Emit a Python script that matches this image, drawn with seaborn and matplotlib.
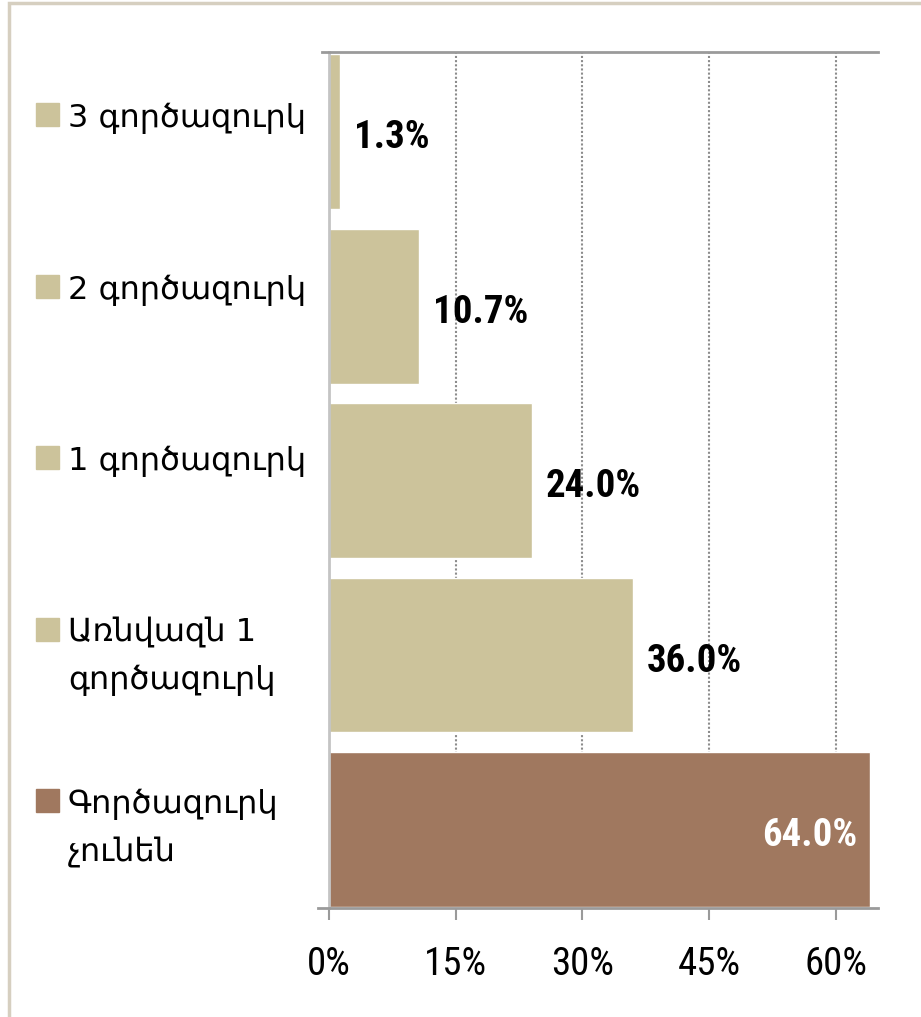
import matplotlib
matplotlib.use("Agg")
import matplotlib.pyplot as plt
from matplotlib import font_manager
from matplotlib.patches import Rectangle
import pandas as pd
import seaborn as sns

# Households by number of unemployed members
categories = ["3 գործազուրկ", "2 գործազուրկ", "1 գործազուրկ",
              "Առնվազն 1\nգործազուրկ", "Գործազուրկ\nչունեն"]
shares = [1.3, 10.7, 24.0, 36.0, 64.0]
bar_colors = ["#CCC39B", "#CCC39B", "#CCC39B", "#CCC39B", "#A0785F"]
x_ticks = [0, 15, 30, 45, 60]
x_tick_labels = ["0%", "15%", "30%", "45%", "60%"]

W, H = 921, 1017
TXT_FONT = ["DejaVu Sans"]


def pick_number_font():
    # narrow sans for the numbers if one is around
    fonts = font_manager.fontManager.ttflist
    names = {f.name for f in fonts}
    for cand in ["Liberation Sans Narrow", "Roboto Condensed", "Open Sans Condensed"]:
        if cand in names:
            return {"family": [cand, "DejaVu Sans"]}
    if any(f.name == "DejaVu Sans" and "condensed" in str(f.stretch) for f in fonts):
        return {"family": ["DejaVu Sans"], "fontstretch": "condensed"}
    return {"family": ["Liberation Sans", "DejaVu Sans"]}


def make_chart():
    sns.set_theme(style="white")
    plt.rcParams["font.family"] = TXT_FONT
    num_font = pick_number_font()

    df = pd.DataFrame({"cat": categories, "share": shares})

    fig = plt.figure(figsize=(W / 100, H / 100), dpi=100)
    ax = fig.add_axes([329 / W, 1 - 908 / H, (878 - 329) / W, (908 - 52) / H])

    sns.barplot(data=df, x="share", y="cat", hue="cat", palette=bar_colors,
                width=0.888, legend=False, saturation=1, ax=ax, zorder=2)

    ax.set_xlim(0, 65)
    ax.set_ylim(4.45, -0.456)
    ax.set_xlabel("")
    ax.set_ylabel("")
    ax.set_yticks([])
    ax.set_xticks(x_ticks)
    ax.set_xticklabels(x_tick_labels, fontsize=28, color="black", **num_font)
    ax.tick_params(axis="x", direction="out", length=8.6, width=1.5,
                   color="#9A9A9A", pad=19, bottom=True)

    # dotted vertical gridlines behind the bars
    for t in x_ticks[1:]:
        ax.axvline(t, color="#8C8C8C", lw=1.5, ls=(0, (1, 1)), zorder=1)

    for side in ["left", "right", "top", "bottom"]:
        ax.spines[side].set_visible(False)
    ax.spines["left"].set_visible(True)
    ax.spines["left"].set_color("#C4C4C4")
    ax.spines["left"].set_linewidth(2)
    ax.spines["bottom"].set_visible(True)
    ax.spines["bottom"].set_color("#9A9A9A")
    ax.spines["bottom"].set_linewidth(2)
    ax.spines["bottom"].set_bounds(-1.3, 65)
    ax.spines["top"].set_visible(True)
    ax.spines["top"].set_color("#9A9A9A")
    ax.spines["top"].set_linewidth(2)
    ax.spines["top"].set_bounds(-0.8, 65)

    # value labels
    for i, v in enumerate(shares):
        last = i == len(shares) - 1
        ax.annotate(f"{v:.1f}%", xy=(v, i), xytext=(-9 if last else 10, -12),
                    textcoords="offset points", ha="right" if last else "left",
                    va="baseline", fontsize=28, fontweight="bold",
                    color="white" if last else "black", **num_font)

    # legend-like labels on the left
    for i, (lab, col) in enumerate(zip(categories, bar_colors)):
        base = 127 + 171.5 * i
        fig.patches.append(Rectangle((36 / W, 1 - (base - 1) / H), 23 / W, 23 / H,
                                     transform=fig.transFigure, color=col,
                                     figure=fig))
        for j, line in enumerate(lab.split("\n")):
            fig.text(68 / W, 1 - (base + 48 * j) / H, line, ha="left",
                     va="baseline", fontsize=23, color="black")

    # thin beige frame (only left and top edges visible)
    fig.patches.append(Rectangle((9 / W, -0.5), 2, 0.5 + 1 - 3 / H,
                                 transform=fig.transFigure, fill=False,
                                 edgecolor="#D6CFC0", lw=2.5, figure=fig))

    fig.savefig("out.png", dpi=100)


if __name__ == "__main__":
    make_chart()
